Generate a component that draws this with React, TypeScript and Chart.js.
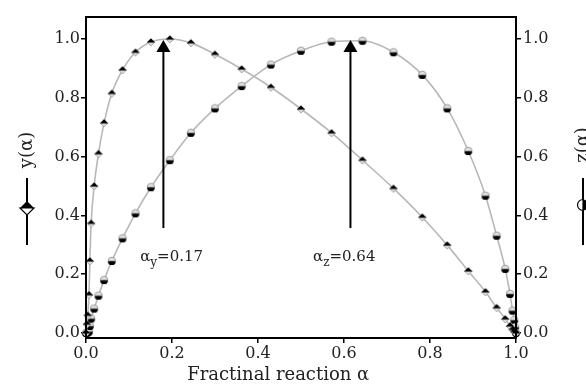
import React, { useEffect, useRef } from "react";
import { Chart, registerables } from "chart.js";

Chart.register(...registerables);

// Fractional reaction values (shared by both series)
const ALPHA = [
  0, 0.002, 0.004, 0.007, 0.009, 0.012, 0.019, 0.029, 0.042, 0.06, 0.085, 0.115,
  0.151, 0.195, 0.244, 0.3, 0.362, 0.43, 0.5, 0.571, 0.643, 0.715, 0.782, 0.84,
  0.889, 0.929, 0.955, 0.975, 0.986, 0.992, 0.996, 0.998, 1.0,
];
// y(alpha), left axis
const Y_ALPHA = [
  0, 0.03, 0.06, 0.13, 0.245, 0.373, 0.5, 0.61, 0.715, 0.815, 0.895, 0.955, 0.99,
  1.0, 0.987, 0.948, 0.898, 0.836, 0.762, 0.681, 0.588, 0.492, 0.394, 0.299,
  0.211, 0.14, 0.086, 0.048, 0.024, 0.012, 0.006, 0.003, 0,
];
// z(alpha), right axis
const Z_ALPHA = [
  0, 0.001, 0.002, 0.005, 0.024, 0.049, 0.083, 0.127, 0.18, 0.245, 0.322, 0.407,
  0.496, 0.588, 0.681, 0.764, 0.84, 0.913, 0.96, 0.991, 0.994, 0.955, 0.878,
  0.764, 0.619, 0.467, 0.331, 0.218, 0.133, 0.076, 0.044, 0.02, 0,
];

const X_TICKS = [0, 0.2, 0.4, 0.6, 0.8, 1.0];
const Y_TICKS = [0, 0.2, 0.4, 0.6, 0.8, 1.0];

// peak annotations
const PEAK_ALPHA = [0.18, 0.615];
const PEAK_SUB = ["y", "z"];
const PEAK_VALUE = ["=0.17", "=0.64"];
const LABEL_ALPHA = [0.126, 0.528];
const ARROW_FROM = 0.357;
const ARROW_TO = 0.997;
const LABEL_Y = 0.245;

const X_TITLE = "Fractinal reaction \u03b1";
const Y_TITLE = "y(\u03b1)";
const Z_TITLE = "z(\u03b1)";

const SERIF = '"DejaVu Serif", serif';

function makeDiamondMarker(): HTMLCanvasElement {
  const c = document.createElement("canvas");
  c.width = 10;
  c.height = 10;
  const g = c.getContext("2d")!;
  g.beginPath();
  g.moveTo(1, 5);
  g.lineTo(9, 5);
  g.lineTo(5, 9);
  g.closePath();
  g.fillStyle = "#dcdcdc";
  g.fill();
  g.strokeStyle = "#9a9a9a";
  g.lineWidth = 0.8;
  g.stroke();
  g.beginPath();
  g.moveTo(0.8, 5.6);
  g.lineTo(5, 1.2);
  g.lineTo(9.2, 5.6);
  g.closePath();
  g.fillStyle = "#000";
  g.fill();
  return c;
}

function makeCircleMarker(): HTMLCanvasElement {
  const c = document.createElement("canvas");
  c.width = 10;
  c.height = 10;
  const g = c.getContext("2d")!;
  g.beginPath();
  g.arc(5, 5, 3.8, Math.PI, 0);
  g.closePath();
  g.fillStyle = "#e2e2e2";
  g.fill();
  g.strokeStyle = "#8a8a8a";
  g.lineWidth = 0.8;
  g.stroke();
  g.beginPath();
  g.arc(5, 5.2, 3.9, 0, Math.PI);
  g.closePath();
  g.fillStyle = "#000";
  g.fill();
  return c;
}

const framePlugin = {
  id: "frame",
  afterDatasetsDraw(chart: any) {
    const { ctx, chartArea: a } = chart;
    ctx.save();
    ctx.strokeStyle = "#000";
    ctx.lineWidth = 2;
    ctx.strokeRect(a.left, a.top, a.right - a.left, a.bottom - a.top);
    ctx.restore();
  },
};

const annotationPlugin = {
  id: "annotations",
  afterDraw(chart: any) {
    const { ctx, chartArea: a } = chart;
    const xs = chart.scales.x;
    const ys = chart.scales.y;
    ctx.save();
    // arrows
    PEAK_ALPHA.forEach((pa, i) => {
      const x = xs.getPixelForValue(pa);
      const y0 = ys.getPixelForValue(ARROW_FROM);
      const y1 = ys.getPixelForValue(ARROW_TO);
      const headH = 12;
      const headW = 7;
      ctx.strokeStyle = "#000";
      ctx.lineWidth = 2;
      ctx.beginPath();
      ctx.moveTo(x, y0);
      ctx.lineTo(x, y1 + headH - 1);
      ctx.stroke();
      ctx.fillStyle = "#000";
      ctx.beginPath();
      ctx.moveTo(x, y1);
      ctx.lineTo(x - headW, y1 + headH);
      ctx.lineTo(x + headW, y1 + headH);
      ctx.closePath();
      ctx.fill();

      // label
      const lx = xs.getPixelForValue(LABEL_ALPHA[i]);
      const ly = ys.getPixelForValue(LABEL_Y);
      ctx.fillStyle = "#222";
      ctx.textBaseline = "alphabetic";
      ctx.textAlign = "left";
      ctx.font = `15px ${SERIF}`;
      ctx.fillText("\u03b1", lx, ly);
      let cx = lx + ctx.measureText("\u03b1").width;
      ctx.font = `12px ${SERIF}`;
      ctx.fillText(PEAK_SUB[i], cx, ly + 5);
      cx += ctx.measureText(PEAK_SUB[i]).width;
      ctx.font = `15px ${SERIF}`;
      ctx.fillText(PEAK_VALUE[i], cx, ly);
    });

    // x axis title
    ctx.fillStyle = "#222";
    ctx.font = `18px ${SERIF}`;
    ctx.textAlign = "center";
    ctx.textBaseline = "alphabetic";
    ctx.fillText(X_TITLE, a.left + 0.447 * (a.right - a.left), a.bottom + 42);

    // left legend / title
    const lxL = a.left - 59;
    ctx.save();
    ctx.translate(lxL, 150);
    ctx.rotate(-Math.PI / 2);
    ctx.textAlign = "center";
    ctx.textBaseline = "middle";
    ctx.font = `18px ${SERIF}`;
    ctx.fillText(Y_TITLE, 0, 0);
    ctx.restore();
    ctx.strokeStyle = "#000";
    ctx.lineWidth = 2;
    ctx.beginPath();
    ctx.moveTo(lxL, 178);
    ctx.lineTo(lxL, 245);
    ctx.stroke();
    // diamond
    const dy = 208;
    const ds = 7;
    ctx.fillStyle = "#fff";
    ctx.beginPath();
    ctx.moveTo(lxL - ds, dy);
    ctx.lineTo(lxL, dy + ds);
    ctx.lineTo(lxL + ds, dy);
    ctx.closePath();
    ctx.fill();
    ctx.lineWidth = 1.2;
    ctx.stroke();
    ctx.fillStyle = "#000";
    ctx.beginPath();
    ctx.moveTo(lxL - ds, dy);
    ctx.lineTo(lxL, dy - ds);
    ctx.lineTo(lxL + ds, dy);
    ctx.closePath();
    ctx.fill();

    // right legend / title
    const lxR = a.right + 67;
    ctx.save();
    ctx.translate(lxR, 145);
    ctx.rotate(-Math.PI / 2);
    ctx.textAlign = "center";
    ctx.textBaseline = "middle";
    ctx.font = `18px ${SERIF}`;
    ctx.fillStyle = "#222";
    ctx.fillText(Z_TITLE, 0, 0);
    ctx.restore();
    ctx.strokeStyle = "#000";
    ctx.lineWidth = 2;
    ctx.beginPath();
    ctx.moveTo(lxR, 178);
    ctx.lineTo(lxR, 245);
    ctx.stroke();
    const cy = 205;
    ctx.fillStyle = "#fff";
    ctx.beginPath();
    ctx.arc(lxR, cy, 5.5, Math.PI / 2, (3 * Math.PI) / 2);
    ctx.closePath();
    ctx.fill();
    ctx.lineWidth = 1.2;
    ctx.stroke();
    ctx.fillStyle = "#000";
    ctx.beginPath();
    ctx.arc(lxR, cy, 5.5, -Math.PI / 2, Math.PI / 2);
    ctx.closePath();
    ctx.fill();

    ctx.restore();
  },
};

export default function App() {
  const ref = useRef<HTMLCanvasElement | null>(null);

  useEffect(() => {
    if (!ref.current) return;
    const diamond = makeDiamondMarker();
    const circle = makeCircleMarker();
    const tickFont = { family: SERIF, size: 16 };
    const gridOpts = {
      drawOnChartArea: false,
      drawTicks: true,
      tickLength: 5,
      color: "#000",
      lineWidth: 1.5,
    };
    const setTicks = (vals: number[]) => (s: any) => {
      s.ticks = vals.map((v) => ({ value: v }));
    };
    const chart = new Chart(ref.current, {
      type: "line",
      data: {
        datasets: [
          {
            data: ALPHA.map((a, i) => ({ x: a, y: Y_ALPHA[i] })),
            yAxisID: "y",
            borderColor: "#b8b8b8",
            borderWidth: 1.6,
            pointStyle: diamond as any,
            pointRadius: 4,
            cubicInterpolationMode: "monotone",
            clip: false as any,
          },
          {
            data: ALPHA.map((a, i) => ({ x: a, y: Z_ALPHA[i] })),
            yAxisID: "y2",
            borderColor: "#b8b8b8",
            borderWidth: 1.6,
            pointStyle: circle as any,
            pointRadius: 4,
            cubicInterpolationMode: "monotone",
            clip: false as any,
          },
        ],
      },
      options: {
        animation: false,
        responsive: false,
        layout: { padding: { top: 17, left: 0, right: 0, bottom: 0 } },
        plugins: { legend: { display: false }, tooltip: { enabled: false } },
        scales: {
          x: {
            type: "linear",
            min: 0,
            max: 1,
            afterBuildTicks: setTicks(X_TICKS),
            afterFit: (s: any) => {
              s.height = 49;
            },
            grid: gridOpts,
            border: { display: false },
            ticks: {
              color: "#222",
              font: tickFont,
              padding: 1,
              maxRotation: 0,
              callback: (v: any) => Number(v).toFixed(1),
            },
          },
          y: {
            type: "linear",
            position: "left",
            min: -0.017,
            max: 1.075,
            afterBuildTicks: setTicks(Y_TICKS),
            afterFit: (s: any) => {
              s.width = 86;
            },
            grid: gridOpts,
            border: { display: false },
            ticks: {
              color: "#222",
              font: tickFont,
              padding: 1,
              callback: (v: any) => Number(v).toFixed(1),
            },
          },
          y2: {
            type: "linear",
            position: "right",
            min: -0.017,
            max: 1.075,
            afterBuildTicks: setTicks(Y_TICKS),
            afterFit: (s: any) => {
              s.width = 70;
            },
            grid: gridOpts,
            border: { display: false },
            ticks: {
              color: "#222",
              font: tickFont,
              padding: 2,
              callback: (v: any) => Number(v).toFixed(1),
            },
          },
        },
      },
      plugins: [framePlugin, annotationPlugin],
    });
    return () => chart.destroy();
  }, []);

  return (
    <div style={{ position: "fixed", left: 0, top: 0, width: 586, height: 387, background: "#fff" }}>
      <canvas ref={ref} width={586} height={387} style={{ display: "block" }} />
    </div>
  );
}
